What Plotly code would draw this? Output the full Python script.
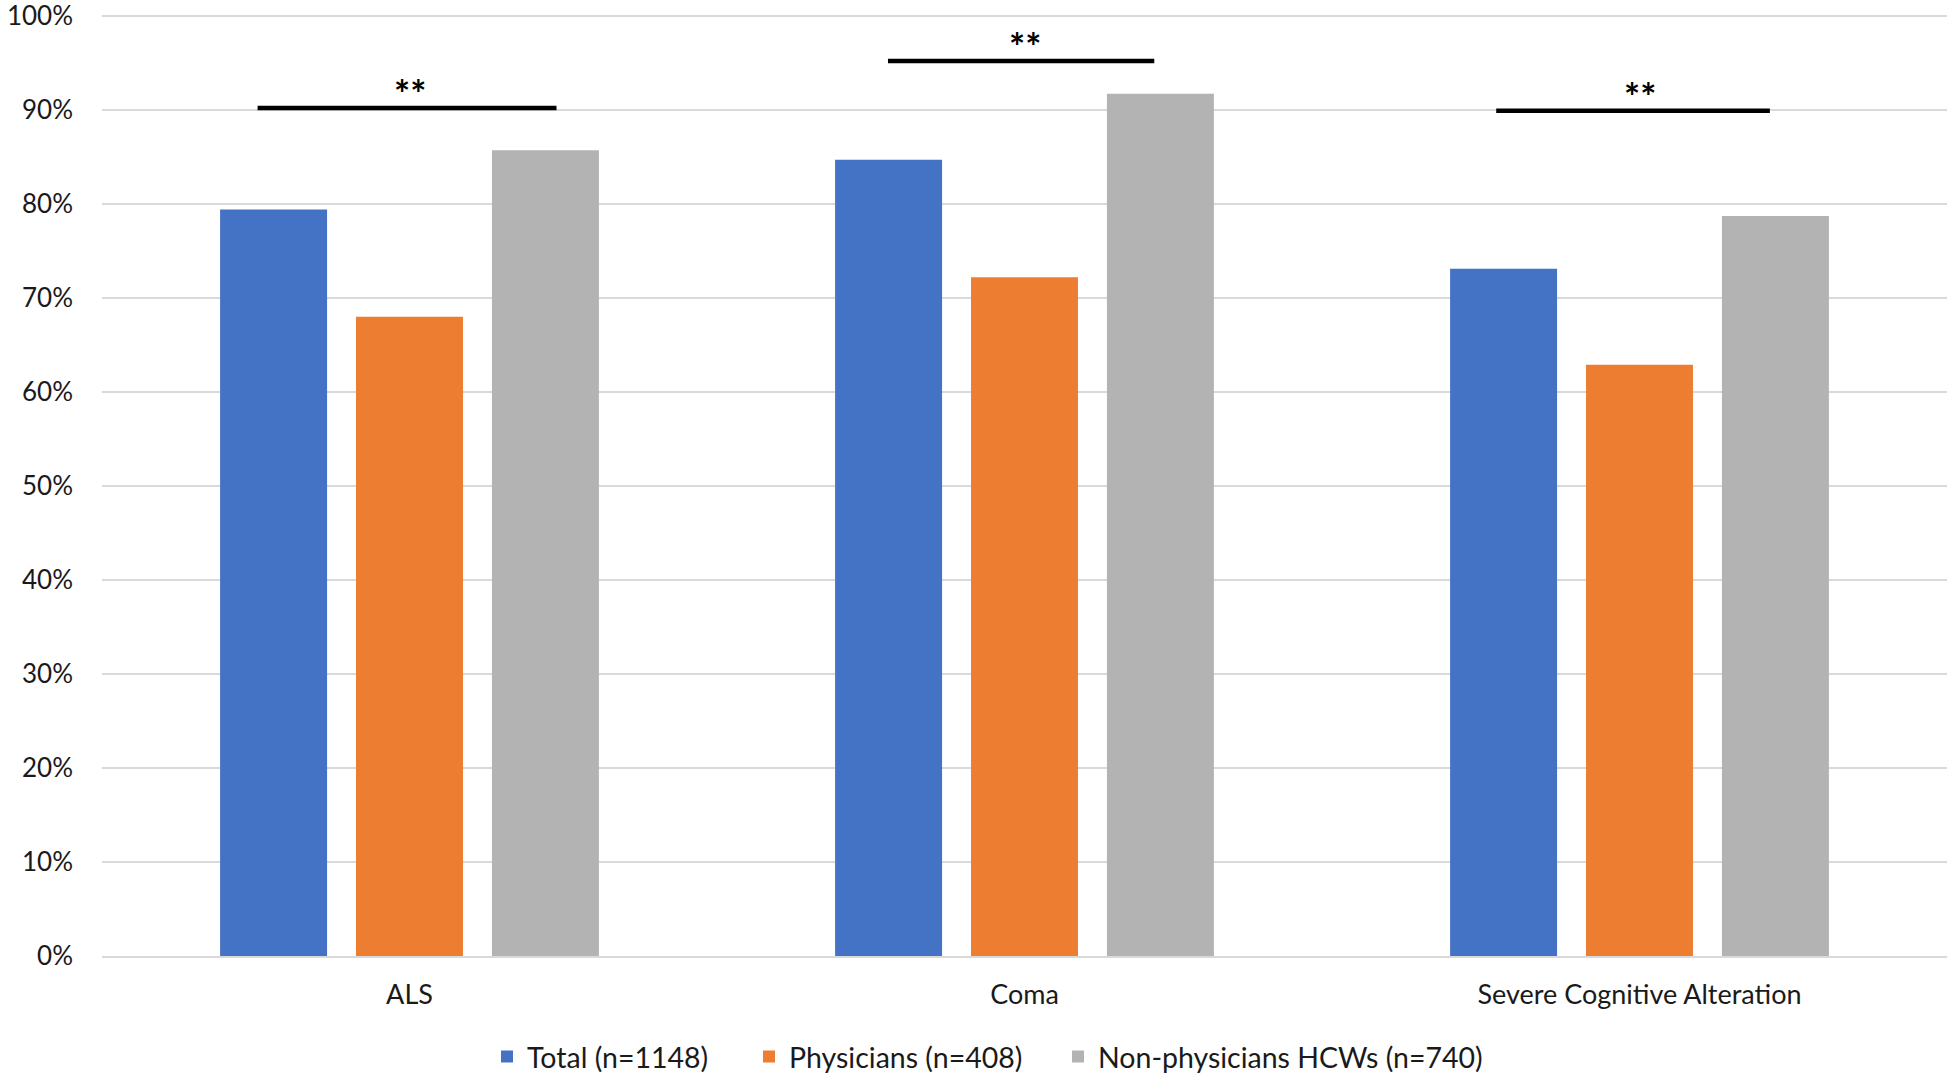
import plotly.graph_objects as go

categories = ["ALS", "Coma", "Severe Cognitive Alteration"]
series_names = ["Total (n=1148)", "Physicians (n=408)", "Non-physicians HCWs (n=740)"]
total = [79.4, 84.7, 73.1]
physicians = [68.0, 72.2, 62.9]
non_physicians = [85.7, 91.7, 78.7]
colors = ["#4472C4", "#ED7D31", "#B3B3B3"]

y_ticks = list(range(0, 101, 10))

# significance bars (category-relative spans) and labels
sig_labels = ["**", "**", "**"]
sig_y = [90.2, 95.2, 89.9]
sig_from = [-0.247, -0.222, -0.233]
sig_to = [0.239, 0.211, 0.212]

FONT = "Lato"
legend_ids = ["legend", "legend2", "legend3"]
legend_x = [487, 749, 1058]  # left edges of each legend box, px

fig = go.Figure()
for name, vals, col, lg in zip(series_names, [total, physicians, non_physicians], colors, legend_ids):
    fig.add_trace(go.Bar(x=categories, y=vals, name=name, legend=lg, showlegend=True,
                         marker=dict(color=col, line=dict(width=0))))

for i, (lab, yv, a, b) in enumerate(zip(sig_labels, sig_y, sig_from, sig_to)):
    fig.add_shape(type="line", xref="x", yref="y", x0=i + a, x1=i + b, y0=yv, y1=yv,
                  line=dict(color="black", width=4.5))
    fig.add_annotation(x=i, y=yv, xref="x", yref="y", text=lab, showarrow=False,
                       yanchor="middle", yshift=15,
                       font=dict(family=FONT, size=38, color="black", weight="bold"))

W, H = 1947, 1074
legend_common = dict(orientation="h", xref="container", yref="container",
                     y=(H - 1057) / H, xanchor="left", yanchor="middle",
                     bgcolor="rgba(0,0,0,0)",
                     font=dict(family=FONT, size=28.5, color="#1a1a1a"))
layout_legends = {}
for lg, lx in zip(legend_ids, legend_x):
    layout_legends[lg] = dict(legend_common, x=lx / W)

fig.update_layout(
    width=W, height=H, showlegend=True,
    margin=dict(l=102, r=0, t=13, b=118),
    paper_bgcolor="white", plot_bgcolor="white",
    barmode="group", bargap=0.337, bargroupgap=0.213,
    font=dict(family=FONT, size=26, color="#1a1a1a"),
    **layout_legends,
)
fig.update_yaxes(range=[0, 100.3], tickvals=y_ticks, ticktext=[f"{v}%" for v in y_ticks],
                 showgrid=True, gridcolor="#D9D9D9", gridwidth=1.5, zeroline=False,
                 showline=False, ticks="", ticklabelstandoff=28, automargin=False,
                 ticklabeloverflow="allow")
fig.update_xaxes(showgrid=False, showline=True, linecolor="#D9D9D9", linewidth=1.5,
                 ticks="", ticklabelstandoff=14, automargin=False,
                 tickfont=dict(family=FONT, size=27))

fig.write_html("out.html", config={"displayModeBar": False},
               post_script="document.body.style.margin='0';")
